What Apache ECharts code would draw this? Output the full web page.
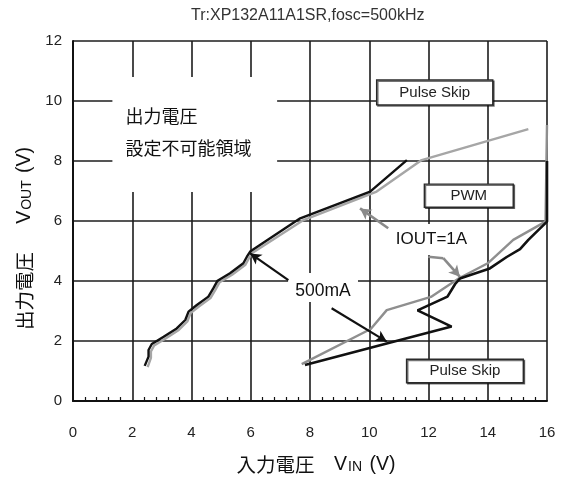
<!DOCTYPE html>
<html>
<head>
<meta charset="utf-8">
<script src="https://cdn.jsdelivr.net/npm/echarts@6/dist/echarts.min.js"></script>
<style>
  html, body { margin: 0; padding: 0; background: #fff; }
  #chart { width: 564px; height: 481px; }
</style>
</head>
<body>
<div id="chart"></div>
<script>
// Operating boundaries, VIN (V) vs VOUT (V)
const vout500mAUpper = [
  [2.42, 1.17], [2.55, 1.48], [2.55, 1.70], [2.66, 1.90], [3.06, 2.14], [3.50, 2.42],
  [3.79, 2.70], [3.90, 2.98], [4.18, 3.20], [4.57, 3.48], [4.74, 3.76], [4.88, 4.01],
  [5.30, 4.26], [5.75, 4.59], [5.87, 4.81], [5.98, 4.98], [7.67, 6.09], [10.03, 6.98],
  [11.27, 8.03]
];
const vout1AUpper = [
  [2.52, 1.13], [2.63, 1.44], [2.63, 1.65], [2.74, 1.85], [3.14, 2.09], [3.57, 2.37],
  [3.86, 2.65], [3.97, 2.93], [4.25, 3.15], [4.64, 3.43], [4.81, 3.71], [4.95, 3.96],
  [5.37, 4.21], [5.82, 4.54], [5.94, 4.76], [6.05, 4.93], [7.78, 6.03], [10.25, 6.98],
  [11.77, 8.03], [15.37, 9.06]
];
const vout500mALower = [
  [7.83, 1.20], [10.59, 1.92], [12.78, 2.48], [11.63, 3.02], [12.64, 3.48], [12.90, 3.90],
  [13.06, 4.08], [14.07, 4.42], [14.64, 4.80], [15.09, 5.06], [15.37, 5.37], [16.00, 5.98],
  [16.00, 8.00]
];
const vout1ALower = [
  [7.72, 1.23], [10.05, 2.40], [10.59, 3.03], [12.08, 3.47], [13.03, 4.09], [14.00, 4.59],
  [14.86, 5.37], [15.95, 5.98], [16.00, 6.00], [16.00, 9.20]
];

// Axis ranges
const vinRange = { min: 0, max: 16, step: 2 };
const voutRange = { min: 0, max: 12, step: 2 };

// Texts
const titleText = 'Tr:XP132A11A1SR,fosc=500kHz';
const regionLines = ['出力電圧', '設定不可能領域'];
const modeLabels = { skipHigh: 'Pulse Skip', pwm: 'PWM', skipLow: 'Pulse Skip' };
const curveLabels = { half: '500mA', full: 'IOUT=1A' };

const latin = '"Liberation Sans", Arial, "Noto Sans CJK JP", sans-serif';
const cjk = '"Noto Sans CJK JP", "Liberation Sans", sans-serif';

const chart = echarts.init(document.getElementById('chart'), null, { renderer: 'canvas' });

const boxStyle = {
  color: '#fff', borderColor: '#2a2a2a', borderWidth: 1.4,
  shadowColor: 'rgba(0,0,0,0.55)', shadowOffsetX: 1.2, shadowOffsetY: 1.2, shadowBlur: 0
};
const boxLabel = (text) => ({
  show: true, position: 'inside', formatter: text,
  color: '#222', fontSize: 15, fontFamily: latin
});
const plainBg = { color: '#fff', borderWidth: 0 };
const nameRich = {
  v: { fontSize: 19.5, fontFamily: latin, color: '#111' },
  sm: { fontSize: 14, fontFamily: latin, color: '#111', padding: [5, 2, 0, 1] }
};

const option = {
  backgroundColor: '#fff',
  animation: false,
  title: {
    text: titleText,
    left: 186, top: 3,
    textStyle: { fontSize: 16, fontWeight: 'normal', color: '#333', fontFamily: latin }
  },
  grid: { left: 73, right: 17, top: 41, bottom: 80, containLabel: false },
  xAxis: {
    type: 'value', min: vinRange.min, max: vinRange.max, interval: vinRange.step,
    axisLine: { show: true, lineStyle: { color: '#111', width: 2 } },
    axisTick: { show: false },
    minorTick: { show: true, splitNumber: 5, length: -4, lineStyle: { color: '#111', width: 1.2 } },
    splitLine: { show: true, lineStyle: { color: '#1c1c1c', width: 1.6 } },
    axisLabel: { margin: 24, fontSize: 15, color: '#222', fontFamily: latin },
    name: '入力電圧　{v|V}{sm|IN}{v| (V)}',
    nameLocation: 'middle', nameGap: 54,
    nameTextStyle: {
      fontSize: 19.5, color: '#111', fontFamily: cjk, padding: [0, 0, 0, 12],
      rich: nameRich
    }
  },
  yAxis: {
    type: 'value', min: voutRange.min, max: voutRange.max, interval: voutRange.step,
    axisLine: { show: true, lineStyle: { color: '#111', width: 2 } },
    axisTick: { show: false },
    splitLine: { show: true, lineStyle: { color: '#1c1c1c', width: 1.6 } },
    axisLabel: { margin: 11, fontSize: 15, color: '#222', fontFamily: latin },
    name: '出力電圧　  {v|V}{sm|OUT}{v| (V)}',
    nameLocation: 'middle', nameGap: 33,
    nameTextStyle: {
      fontSize: 19.5, color: '#111', fontFamily: cjk, padding: [0, 35, 0, 0],
      rich: nameRich
    }
  },
  series: [
    {
      // white backgrounds and mode boxes
      type: 'line', data: [], z: 1, silent: true,
      markArea: {
        silent: true,
        data: [
          [{ coord: [1.33, 10.8], itemStyle: plainBg,
             label: { show: true, position: 'insideLeft', distance: 13, offset: [0, -2],
                      formatter: regionLines.join('\n'), lineHeight: 32,
                      fontSize: 18, color: '#111', fontFamily: cjk } },
           { coord: [6.89, 6.97] }],
          [{ coord: [7.26, 4.27], itemStyle: plainBg,
             label: { show: true, position: 'inside', formatter: curveLabels.half, offset: [0, 4],
                      fontSize: 17.5, color: '#111', fontFamily: latin } },
           { coord: [9.62, 3.30] }],
          [{ coord: [10.8, 5.9], itemStyle: plainBg,
             label: { show: true, position: 'inside', formatter: curveLabels.full,
                      fontSize: 17, color: '#111', fontFamily: latin } },
           { coord: [13.4, 4.87] }],
          [{ coord: [10.25, 10.7], itemStyle: boxStyle, label: boxLabel(modeLabels.skipHigh) },
           { coord: [14.17, 9.87] }],
          [{ coord: [11.86, 7.23], itemStyle: boxStyle, label: boxLabel(modeLabels.pwm) },
           { coord: [14.86, 6.46] }],
          [{ coord: [11.26, 1.39], itemStyle: boxStyle, label: boxLabel(modeLabels.skipLow) },
           { coord: [15.20, 0.61] }]
        ]
      }
    },
    {
      name: 'IOUT=1A', type: 'line', data: vout1AUpper, z: 2,
      showSymbol: false, lineStyle: { color: '#a6a6a6', width: 2.4 }
    },
    {
      name: 'IOUT=1A', type: 'line', data: vout1ALower, z: 2,
      showSymbol: false, lineStyle: { color: '#8f8f8f', width: 2.4 }
    },
    {
      name: '500mA', type: 'line', data: vout500mAUpper, z: 3,
      showSymbol: false, lineStyle: { color: '#111', width: 2.4 }
    },
    {
      name: '500mA', type: 'line', data: vout500mALower, z: 3,
      showSymbol: false, lineStyle: { color: '#111', width: 2.6 }
    },
    {
      // pointer arrows from the labels to the curves
      type: 'line', data: [], z: 4, silent: true,
      markLine: {
        silent: true, symbol: ['none', 'arrow'], symbolSize: [9, 11],
        label: { show: false },
        data: [
          [{ coord: [7.27, 4.03], lineStyle: { color: '#111', width: 2.2, type: 'solid' } }, { coord: [5.98, 4.92] }],
          [{ coord: [8.73, 3.09], lineStyle: { color: '#111', width: 2.2, type: 'solid' } }, { coord: [10.59, 1.98] }],
          [{ coord: [10.64, 5.76], lineStyle: { color: '#8a8a8a', width: 2.6, type: 'solid' } }, { coord: [9.69, 6.42] }],
          [{ coord: [11.99, 4.81], symbol: 'none', lineStyle: { color: '#8a8a8a', width: 2.6, type: 'solid' } }, { coord: [12.50, 4.76], symbol: 'none' }],
          [{ coord: [12.50, 4.76], lineStyle: { color: '#8a8a8a', width: 2.6, type: 'solid' } }, { coord: [13.06, 4.14] }]
        ]
      }
    }
  ]
};

chart.setOption(option);
</script>
</body>
</html>
